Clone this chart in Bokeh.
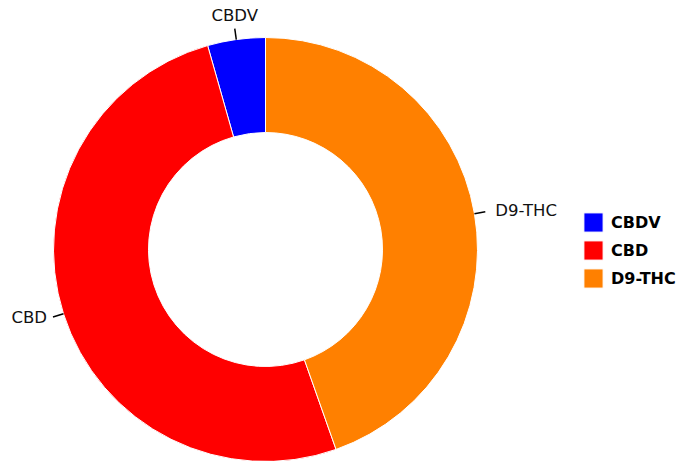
import math
from bokeh.plotting import figure
from bokeh.models import ColumnDataSource, Range1d, Legend, LegendItem
from bokeh.core.properties import value
from bokeh.embed import file_html
from bokeh.resources import INLINE

categories = ["CBDV", "CBD", "D9-THC"]
values = [4.4, 51.0, 44.6]
colors = ["#0000ff", "#ff0000", "#ff8000"]

total = sum(values)
starts, ends, mids = [], [], []
acc = 0.0
for v in values:
    a0 = math.pi / 2 + 2 * math.pi * acc / total
    acc += v
    a1 = math.pi / 2 + 2 * math.pi * acc / total
    starts.append(a0)
    ends.append(a1)
    mids.append((a0 + a1) / 2)

R_OUT, R_IN = 212, 117
LEAD = 11
src = ColumnDataSource(dict(cat=categories, val=values, start=starts, end=ends, color=colors))

W, H = 678, 461
CX, CY = 265, 249
p = figure(width=W, height=H, output_backend="svg", toolbar_location=None,
           x_range=Range1d(-CX, W - CX), y_range=Range1d(CY - H, CY),
           min_border=0, outline_line_color=None)
p.axis.visible = False
p.grid.visible = False

r = p.annular_wedge(x=0, y=0, inner_radius=R_IN, outer_radius=R_OUT,
                    start_angle="start", end_angle="end", direction="anticlock",
                    fill_color="color", line_color="white", line_width=1, source=src)

lx0, ly0, lx1, ly1 = [], [], [], []
tx, ty, ta, tb, xo, yo = [], [], [], [], [], []
for m in mids:
    c, s = math.cos(m), math.sin(m)
    lx0.append(R_OUT * c); ly0.append(R_OUT * s)
    lx1.append((R_OUT + LEAD) * c); ly1.append((R_OUT + LEAD) * s)
    x, y = (R_OUT + LEAD) * c, (R_OUT + LEAD) * s
    tx.append(x); ty.append(y)
    if abs(c) < 0.3:
        ta.append("center"); tb.append("bottom" if s > 0 else "top")
        xo.append(0); yo.append(-4 if s > 0 else 4)
    elif c > 0:
        ta.append("left"); tb.append("middle"); xo.append(10); yo.append(-1)
    else:
        ta.append("right"); tb.append("middle"); xo.append(-6); yo.append(0)

p.segment(x0=lx0, y0=ly0, x1=lx1, y1=ly1, line_color="black", line_width=1.5)
lsrc = ColumnDataSource(dict(x=tx, y=ty, t=categories, a=ta, b=tb, xo=xo, yo=yo))
p.text(x="x", y="y", text="t", text_align="a", text_baseline="b",
       x_offset="xo", y_offset="yo", source=lsrc,
       text_font=value("DejaVu Sans"), text_font_size="16.5px", text_color="#111111")

items = [LegendItem(label=cat, renderers=[r], index=i) for i, cat in enumerate(categories)]
legend = Legend(items=items, location=(581, H - 290), orientation="vertical",
                glyph_width=24, glyph_height=24, label_standoff=6, spacing=4,
                padding=0, margin=0, border_line_color=None, background_fill_alpha=0,
                label_text_font="DejaVu Sans", label_text_font_style="bold",
                label_text_font_size="16px", label_text_color="#000000", label_height=24)
p.add_layout(legend, "center")

open("out.html", "w").write(file_html(p, INLINE))
